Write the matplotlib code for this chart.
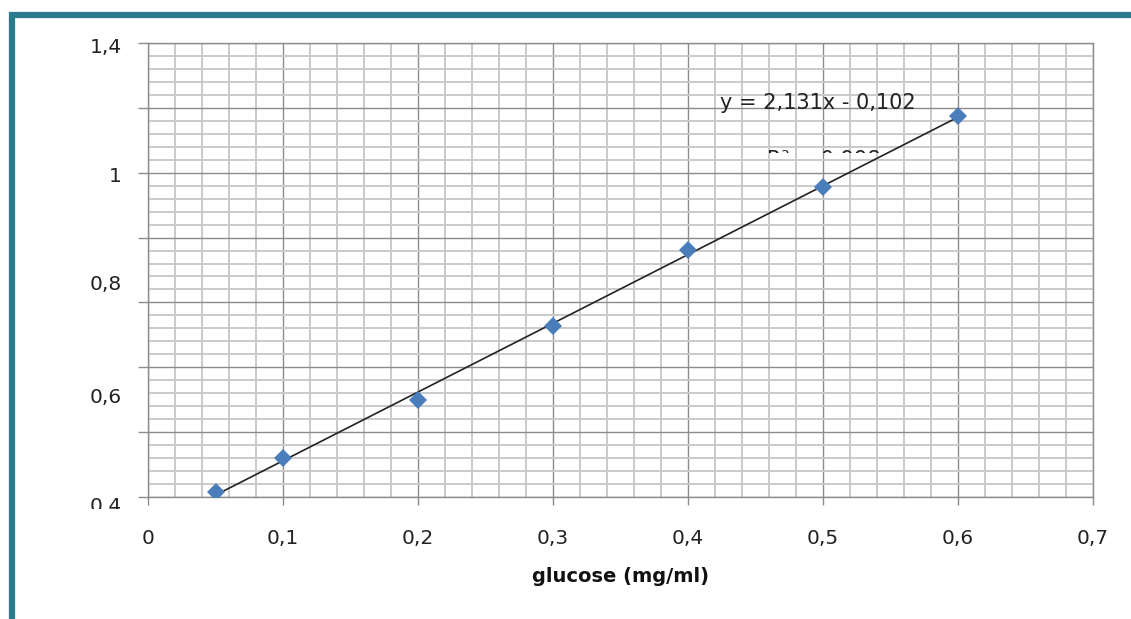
import numpy as np
import matplotlib
matplotlib.use("Agg")
import matplotlib.pyplot as plt
from matplotlib.patches import Rectangle
from matplotlib.transforms import Bbox

# data
GLUCOSE = [0.05, 0.1, 0.2, 0.3, 0.4, 0.5, 0.6]
ABSORB = [0.411, 0.486, 0.614, 0.777, 0.944, 1.083, 1.239]
XTICKS = [0, 0.1, 0.2, 0.3, 0.4, 0.5, 0.6, 0.7]
XLABELS = ['0', '0,1', '0,2', '0,3', '0,4', '0,5', '0,6', '0,7']
# y labels as they sit in the (garbled) original
YLABELS = ['1,4', '1', '0,8', '0,6']
YLABEL_AT = [1.389, 1.107, 0.867, 0.620]
EQUATION = 'y = 2,131x - 0,102'
R2_TEXT = 'R² = 0,998'
XTITLE = 'glucose (mg/ml)'

W, H = 1131, 619
BLUE = '#4A7EBB'
MAJOR = '#8c8c8c'
MINOR = '#cacaca'

plt.rcParams['font.family'] = 'DejaVu Sans'

fig = plt.figure(figsize=(W / 100, H / 100), dpi=100)
ax = fig.add_axes([148 / W, (H - 497) / H, 945 / W, 454 / H])

ax.set_xlim(0, 0.7)
ax.set_ylim(0.4, 1.4)

# grid: 7 major rows, 5 minor per major
ymaj = np.linspace(0.4, 1.4, 8)
ymin = np.linspace(0.4, 1.4, 36)
ax.set_xticks(XTICKS)
ax.set_xticks(np.linspace(0, 0.7, 36), minor=True)
ax.set_yticks(ymaj)
ax.set_yticks(ymin, minor=True)
ax.set_xticklabels(XLABELS, fontsize=14.5, color='#222222')
ax.set_yticklabels([''] * len(ymaj))
ax.grid(which='minor', color=MINOR, linewidth=1.4)
ax.grid(which='major', color=MAJOR, linewidth=1.0)
ax.set_axisbelow(True)
ax.tick_params(axis='x', which='major', length=6, width=1, color=MAJOR, pad=17)
ax.tick_params(axis='y', which='major', length=7.2, width=1, color=MAJOR)
ax.tick_params(which='minor', length=0)
for s in ax.spines.values():
    s.set_color(MAJOR)
    s.set_linewidth(1.0)

for lab, yv in zip(YLABELS, YLABEL_AT):
    ax.text(-26 / 945, yv, lab, transform=ax.get_yaxis_transform(),
            ha='right', va='center', fontsize=14.5, color='#222222', clip_on=False)

# bottom label is cut off in the original
t04 = fig.text(122 / W, (H - 507) / H, '0,4', ha='right', va='center',
               fontsize=14.5, color='#222222')
t04.set_clip_on(True)
t04.set_clip_box(Bbox.from_extents(0, H - 509, W, H))

# trend line
k, b = np.polyfit(GLUCOSE, ABSORB, 1)
xs = np.array([GLUCOSE[0], GLUCOSE[-1]])
ax.plot(xs, k * xs + b, color='#222222', linewidth=1.2, zorder=3)
ax.plot(GLUCOSE, ABSORB, linestyle='none', marker='D', markersize=9.5,
        color=BLUE, markeredgewidth=0, zorder=4)

fig.text(720 / W, (H - 103) / H, EQUATION, ha='left', va='center',
         fontsize=15, color='#222222')
# R² line is mostly hidden in the original, only the tops of the glyphs show
r2 = fig.text(767 / W, (H - 166) / H, R2_TEXT, ha='left', va='baseline',
              fontsize=15, color='#222222')
r2.set_clip_on(True)
r2.set_clip_box(Bbox.from_extents(0, H - 153, W, H))

fig.text(620 / W, (H - 577) / H, XTITLE, ha='center', va='center',
         fontsize=14, fontweight='bold', color='#111111')

# teal frame, running off the right and bottom edges
fig.add_artist(Rectangle((11.5 / W, -0.1), 1.2, (H - 14.5) / H + 0.1,
                         transform=fig.transFigure, fill=False,
                         edgecolor='#2C7A8C', linewidth=4.5))

fig.savefig('out.png', dpi=100)
